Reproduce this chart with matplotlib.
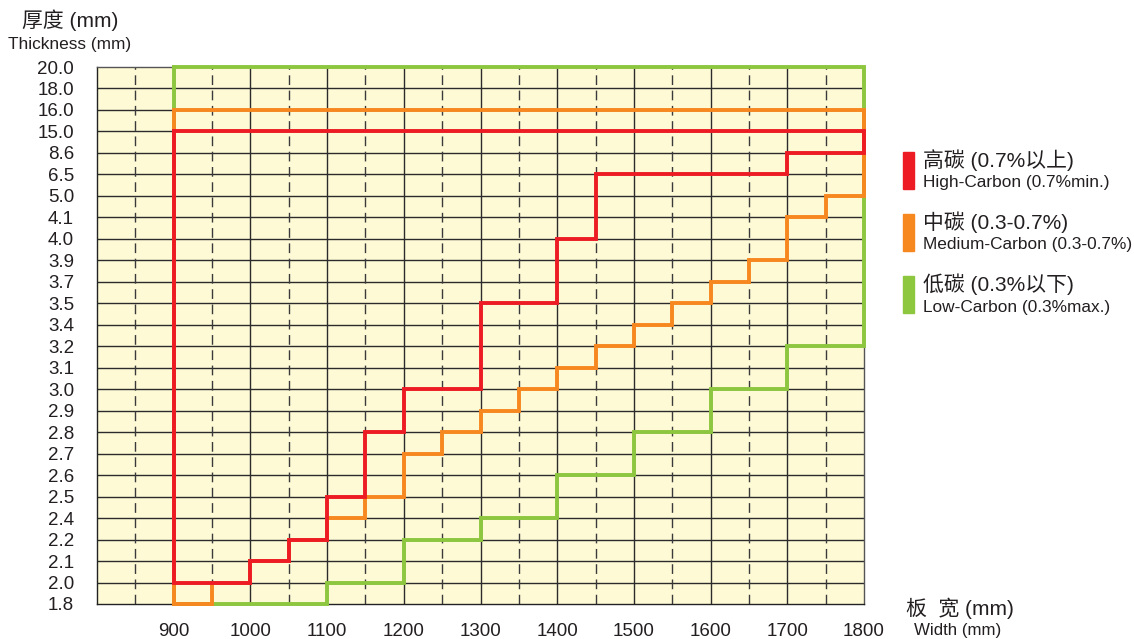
import matplotlib.pyplot as plt

plt.rcParams['font.family'] = ['Liberation Sans', 'Noto Sans CJK SC', 'DejaVu Sans']

# thickness rows (evenly spaced categories on the y axis)
levels = [1.8, 2.0, 2.1, 2.2, 2.4, 2.5, 2.6, 2.7, 2.8, 2.9, 3.0, 3.1, 3.2,
          3.4, 3.5, 3.7, 3.9, 4.0, 4.1, 5.0, 6.5, 8.6, 15.0, 16.0, 18.0, 20.0]
widths_ticks = [900, 1000, 1100, 1200, 1300, 1400, 1500, 1600, 1700, 1800]

# step boundaries: minimum thickness between edges[i] and edges[i+1], plus the max thickness
high_edges = [900, 1000, 1050, 1100, 1150, 1200, 1300, 1400, 1450, 1700, 1800]
high_min = [2.0, 2.1, 2.2, 2.5, 2.8, 3.0, 3.5, 4.0, 6.5, 8.6]
high_max = 15.0

mid_edges = [900, 950, 1000, 1050, 1100, 1150, 1200, 1250, 1300, 1350, 1400,
             1450, 1500, 1550, 1600, 1650, 1700, 1750, 1800]
mid_min = [1.8, 2.0, 2.1, 2.2, 2.4, 2.5, 2.7, 2.8, 2.9, 3.0, 3.1, 3.2, 3.4,
           3.5, 3.7, 3.9, 4.1, 5.0]
mid_max = 16.0

low_edges = [900, 1100, 1200, 1300, 1400, 1500, 1600, 1700, 1800]
low_min = [1.8, 2.0, 2.2, 2.4, 2.6, 2.8, 3.0, 3.2]
low_max = 20.0

names_cn = ['高碳 (0.7%以上)', '中碳 (0.3-0.7%)', '低碳 (0.3%以下)']
names_en = ['High-Carbon (0.7%min.)', 'Medium-Carbon (0.3-0.7%)', 'Low-Carbon (0.3%max.)']
colors = ['#ED1C24', '#F7871F', '#8DC63F']


def row(v):
    return levels.index(v)


def outline(edges, mins, top):
    xs = [edges[0]]
    ys = [row(top)]
    for i, t in enumerate(mins):
        xs += [edges[i], edges[i + 1]]
        ys += [row(t), row(t)]
    xs += [edges[-1], edges[0]]
    ys += [row(top), row(top)]
    return xs, ys


fig = plt.figure(figsize=(11.34, 6.39), dpi=100)
ax = fig.add_axes([97 / 1134, 1 - 604 / 639, (864 - 97) / 1134, (604 - 67) / 639])
ax.set_facecolor('#FEFAD6')
ax.set_xlim(800, 1800)
ax.set_ylim(0, len(levels) - 1)

for i in range(1, len(levels) - 1):
    ax.axhline(i, color='#2b2b2b', lw=1, zorder=1)
for x in range(850, 1800, 50):
    if x % 100 == 0:
        ax.axvline(x, color='#2b2b2b', lw=1, zorder=1)
    else:
        ax.axvline(x, color='#3a3a3a', lw=1, dashes=(7, 4), zorder=1)

series = [(low_edges, low_min, low_max, colors[2]),
          (mid_edges, mid_min, mid_max, colors[1]),
          (high_edges, high_min, high_max, colors[0])]
for k, (e, m, t, c) in enumerate(series):
    xs, ys = outline(e, m, t)
    ax.plot(xs, ys, color=c, lw=2.8, solid_joinstyle='miter',
            solid_capstyle='projecting', clip_on=False, zorder=3 + k)

for s in ax.spines.values():
    s.set_color('#555555')
    s.set_linewidth(1)
ax.spines['left'].set_color('#222222')
ax.spines['bottom'].set_color('#222222')

ax.set_yticks(range(len(levels)))
ax.set_yticklabels([f'{v:.1f}' for v in levels], fontsize=13.5, color='#231f20')
ax.set_xticks(widths_ticks)
ax.set_xticklabels([str(w) for w in widths_ticks], fontsize=13.5, color='#231f20')
ax.tick_params(axis='y', length=0, pad=16.5)
ax.tick_params(axis='x', length=0, pad=14)

fig.text(70 / 1134, 1 - 20 / 639, '厚度 (mm)', fontsize=15, ha='center', va='center', color='#231f20')
fig.text(70 / 1134, 1 - 44 / 639, 'Thickness (mm)', fontsize=12.4, ha='center', va='center', color='#231f20')
fig.text(960 / 1134, 1 - 608 / 639, '板  宽 (mm)', fontsize=15, ha='center', va='center', color='#231f20')
fig.text(958 / 1134, 1 - 630 / 639, 'Width (mm)', fontsize=12.2, ha='center', va='center', color='#231f20')

for i in range(3):
    top = 152 + i * 62
    fig.patches.append(plt.Rectangle((903 / 1134, 1 - (top + 37) / 639), 11 / 1134, 37 / 639,
                                     transform=fig.transFigure, color=colors[i]))
    fig.text(923 / 1134, 1 - (top + 8) / 639, names_cn[i], fontsize=15, ha='left', va='center', color='#231f20')
    fig.text(923 / 1134, 1 - (top + 31) / 639, names_en[i], fontsize=12.4, ha='left', va='center', color='#231f20')

fig.savefig('out.png', dpi=100)
